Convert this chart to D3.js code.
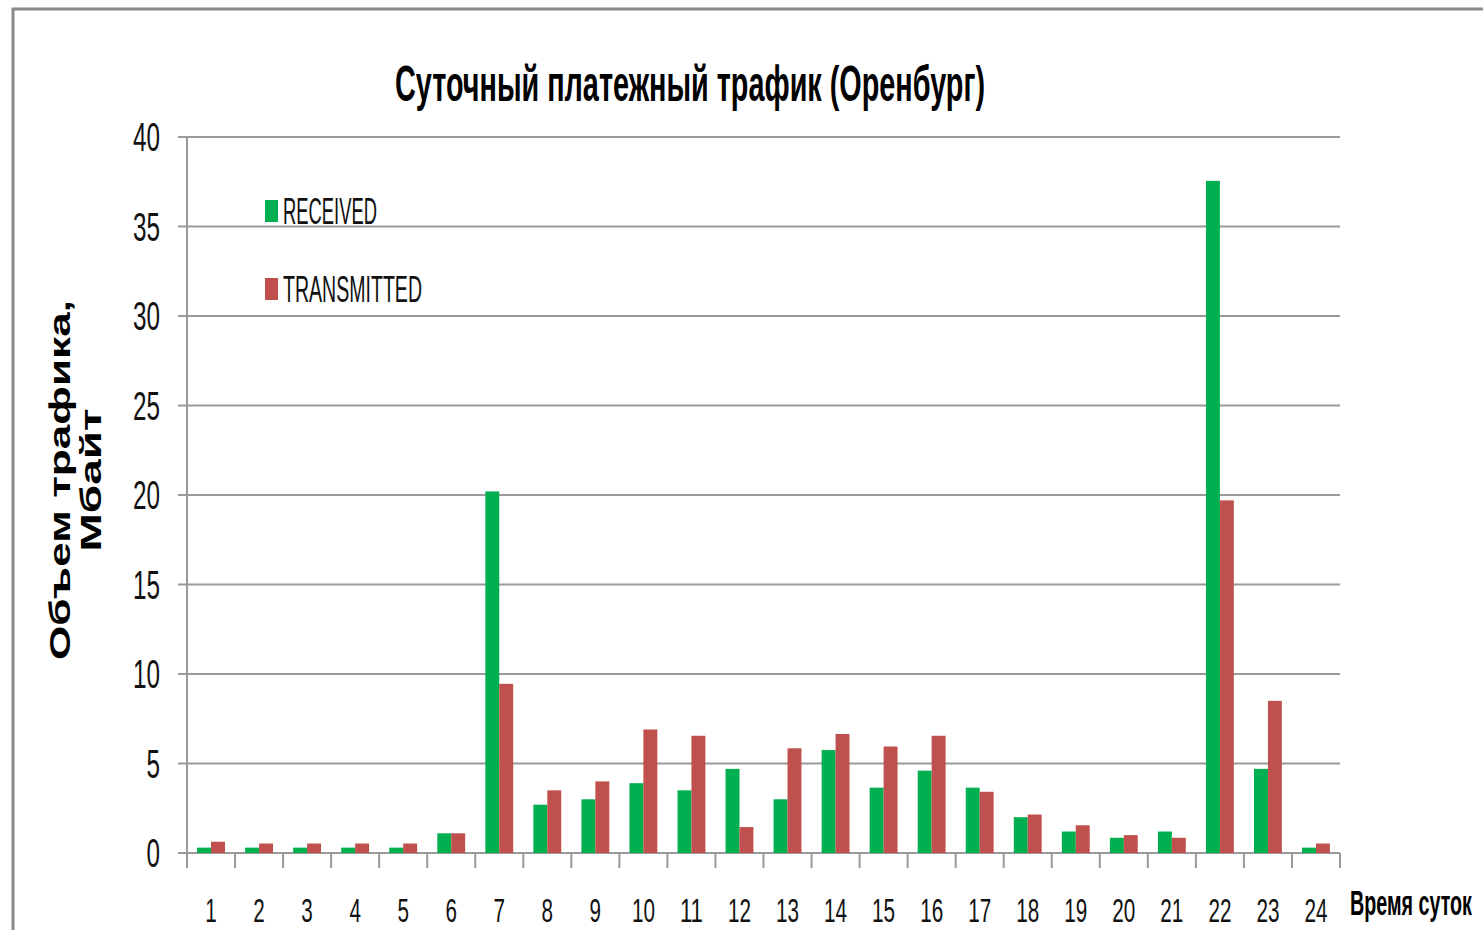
<!DOCTYPE html>
<html><head><meta charset="utf-8">
<script src="https://cdn.jsdelivr.net/npm/d3@7"></script>
<style>body{margin:0;background:#fff;overflow:hidden} svg{display:block}</style>
</head><body><svg id="c" width="1483" height="930"></svg>
<script>
const categories = ["1","2","3","4","5","6","7","8","9","10","11","12","13","14","15","16","17","18","19","20","21","22","23","24"];
const received = [0.3,0.3,0.3,0.3,0.3,1.1,20.2,2.7,3.0,3.9,3.5,4.7,3.0,5.75,3.65,4.6,3.65,2.0,1.2,0.85,1.2,37.55,4.7,0.3];
const transmitted = [0.63,0.53,0.53,0.53,0.53,1.1,9.45,3.5,4.0,6.9,6.55,1.45,5.85,6.65,5.95,6.55,3.42,2.15,1.55,1.0,0.85,19.7,8.5,0.53];
const yTicks = [0,5,10,15,20,25,30,35,40];
const seriesNames = ["RECEIVED","TRANSMITTED"];
const colors = ["#00B050","#C0504D"];

const svg = d3.select("#c");
const FONT = "'Liberation Sans', Arial, sans-serif";

// outer frame
svg.append("rect").attr("x",13).attr("y",9).attr("width",1600).attr("height",1000)
  .attr("fill","none").attr("stroke","#8a8a8a").attr("stroke-width",3);

const x = d3.scaleBand().domain(categories).range([187,1340]).paddingInner(0.42).paddingOuter(0.21);
const x1 = d3.scaleBand().domain(seriesNames).range([0,x.bandwidth()]);
const y = d3.scaleLinear().domain([0,40]).range([853,137]);

// gridlines
svg.append("g").selectAll("line").data(yTicks).join("line")
  .attr("x1",178).attr("x2",1340).attr("y1",d=>y(d)).attr("y2",d=>y(d))
  .attr("stroke","#9a9a9a").attr("stroke-width",2);
// y axis line
svg.append("line").attr("x1",187).attr("x2",187).attr("y1",y(40)).attr("y2",y(0))
  .attr("stroke","#9a9a9a").attr("stroke-width",2);
// x ticks at category boundaries
const half = (x.step()-x.bandwidth())/2;
const bounds = categories.map(c=>x(c)-half).concat([x(categories[categories.length-1])+x.bandwidth()+half]);
svg.append("g").selectAll("line").data(bounds).join("line")
  .attr("x1",d=>d).attr("x2",d=>d).attr("y1",y(0)).attr("y2",y(0)+15)
  .attr("stroke","#9a9a9a").attr("stroke-width",2);

// bars
const data = categories.map((c,i)=>({c, vals:[received[i],transmitted[i]]}));
const groups = svg.append("g").selectAll("g").data(data).join("g")
  .attr("transform",d=>`translate(${x(d.c)},0)`);
groups.selectAll("rect").data(d=>d.vals.map((v,j)=>({v,j}))).join("rect")
  .attr("x",d=>x1(seriesNames[d.j])).attr("width",x1.bandwidth())
  .attr("y",d=>y(d.v)).attr("height",d=>y(0)-y(d.v))
  .attr("fill",d=>colors[d.j]);

// y tick labels
svg.append("g").selectAll("text").data(yTicks).join("text")
  .attr("x",160).attr("y",d=>y(d)+14).attr("text-anchor","end")
  .attr("font-family",FONT).attr("font-size",40)
  .attr("textLength",d=>String(d).length*13.5).attr("lengthAdjust","spacingAndGlyphs")
  .attr("fill","#111").text(d=>d);

// x tick labels
svg.append("g").selectAll("text").data(categories).join("text")
  .attr("x",c=>x(c)+x.bandwidth()/2).attr("y",922).attr("text-anchor","middle")
  .attr("font-family",FONT).attr("font-size",34)
  .attr("textLength",c=>c.length*11.5).attr("lengthAdjust","spacingAndGlyphs")
  .attr("fill","#111").text(c=>c);

// title
svg.append("text").attr("x",690).attr("y",101).attr("text-anchor","middle")
  .attr("font-family",FONT).attr("font-size",50).attr("font-weight","bold")
  .attr("textLength",590).attr("lengthAdjust","spacingAndGlyphs")
  .attr("fill","#000").text("Суточный платежный трафик (Оренбург)");

// x axis title (condensed via scale so its box stays inside the page)
const xt = svg.append("text").attr("x",0).attr("y",0)
  .attr("font-family",FONT).attr("font-size",36).attr("font-weight","bold")
  .attr("fill","#000").text("Время суток");
const xtW = xt.node().getComputedTextLength();
xt.attr("transform",`translate(1350,915) scale(${122/xtW},1)`);

// y axis title
const yt = svg.append("text").attr("transform","translate(0,480) rotate(-90)")
  .attr("text-anchor","middle").attr("font-family",FONT).attr("font-size",30).attr("font-weight","bold").attr("fill","#000");
yt.append("tspan").attr("x",0).attr("y",70).attr("textLength",360).attr("lengthAdjust","spacingAndGlyphs").text("Объем трафика,");
yt.append("tspan").attr("x",0).attr("y",101).attr("textLength",143).attr("lengthAdjust","spacingAndGlyphs").text("Мбайт");

// legend
const legY = [211, 289];
const legW = [94, 139];
const leg = svg.append("g").selectAll("g").data(seriesNames).join("g");
leg.append("rect").attr("x",265).attr("y",(d,i)=>legY[i]-11).attr("width",13).attr("height",22)
  .attr("fill",(d,i)=>colors[i]);
leg.append("text").attr("x",283).attr("y",(d,i)=>legY[i]+13)
  .attr("font-family",FONT).attr("font-size",36)
  .attr("textLength",(d,i)=>legW[i]).attr("lengthAdjust","spacingAndGlyphs")
  .attr("fill","#111").text(d=>d);
</script></body></html>
